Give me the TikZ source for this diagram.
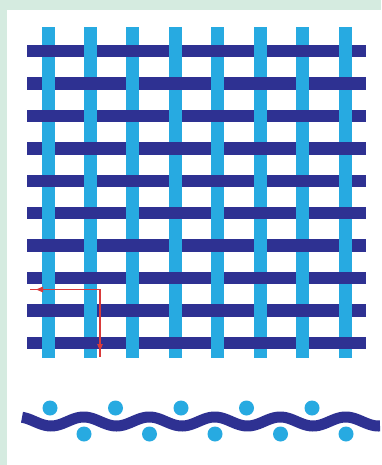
\documentclass[tikz,border=0pt]{standalone}
\usetikzlibrary{arrows.meta}
\definecolor{bggreen}{HTML}{D5EBE0}
\definecolor{warpblue}{HTML}{27AAE1}
\definecolor{weftblue}{HTML}{2E3192}
\definecolor{arrowred}{HTML}{D93A3A}
\tikzset{
  warp/.style={fill=warpblue, draw=none},
  weft/.style={fill=weftblue, draw=none},
  bead/.style={fill=warpblue, draw=none},
  wavy/.style={draw=weftblue, line width=11pt, line cap=butt},
  redline/.style={draw=arrowred, line width=1.1pt},
  redtip/.style={draw=arrowred, fill=arrowred, line width=1.1pt, -{Triangle[length=7pt,width=5.5pt]}}
}
\begin{document}
\begin{tikzpicture}[x=1pt,y=-1pt]
\useasboundingbox (0,0) rectangle (381,465);
\fill[bggreen] (0,0) rectangle (381,465);
\fill[white] (7,10) rectangle (381,465);
% warp (vertical, light)
\foreach \j in {0,...,7}{
  \pgfmathsetmacro{\cx}{48+42.43*\j}
  \fill[warp] (\cx-6.5,27) rectangle (\cx+6.5,358);
}
% weft (horizontal, dark)
\foreach \i in {0,...,9}{
  \pgfmathsetmacro{\cy}{51+32.44*\i}
  \fill[weft] (27,\cy-6.2) rectangle (366,\cy+6.2);
}
% light over dark where i+j odd
\foreach \i in {0,...,9}{
  \foreach \j in {0,...,7}{
    \pgfmathsetmacro{\cx}{48+42.43*\j}
    \pgfmathsetmacro{\cy}{51+32.44*\i}
    \pgfmathtruncatemacro{\oddq}{mod(\i+\j,2)}
    \ifnum\oddq=1
      \fill[warp] (\cx-6.5,\cy-6.6) rectangle (\cx+6.5,\cy+6.6);
    \fi
  }
}
% red arrows
\coordinate (corner) at (100,289.5);
\coordinate (leftend) at (30,289.5);
\coordinate (lefttip) at (36,289.5);
\coordinate (downend) at (100,357);
\coordinate (downtip) at (100,351);
\draw[redline] (leftend) -- (corner) -- (downend);
\draw[redtip] (corner) -- (lefttip);
\draw[redtip] (corner) -- (downtip);
% wave
\draw[wavy] plot[domain=22:380, samples=240, smooth] (\x, {421.5+4.5*cos(5.4962*(\x-51))});
% beads
\foreach \k in {0,...,4}{
  \fill[bead] (50+65.5*\k,408) circle (7.5);
  \fill[bead] (84+65.5*\k,434) circle (7.5);
}
\end{tikzpicture}
\end{document}
